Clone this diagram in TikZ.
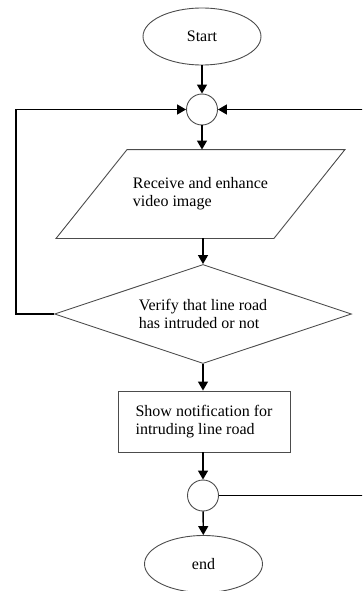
\documentclass[tikz,border=0pt]{standalone}
\usepackage{fontspec}
\setmainfont{Liberation Serif}
\usetikzlibrary{shapes.geometric,arrows.meta}

\begin{document}
\begin{tikzpicture}[x=1pt, y=-1pt,
		box/.style={draw=black!70, line width=0.9pt, font=\fontsize{16}{18}\selectfont},
		term/.style={box, ellipse, minimum width=118, minimum height=57, inner sep=0pt},
		joint/.style={box, circle, minimum size=31, inner sep=0pt},
		io/.style={box, draw=none, rectangle, minimum width=217, minimum height=88, align=left},
		test/.style={box, diamond, shape aspect=3, minimum width=297, minimum height=99,
			inner sep=0pt, align=left},
		proc/.style={box, rectangle, minimum width=172, minimum height=61, align=left},
		flow/.style={line width=1.4pt, -{Triangle[length=9pt, width=10pt]}},
		wire/.style={line width=1.2pt}]
	\clip (0,0) rectangle (362,591);

	% 起止、汇合点与处理框
	\node[term]  (start) at (202,36.5) {Start};
	\node[joint] (merge) at (202,109.5) {};
	\node[io]    (recv)  at (200.5,194) {Receive and enhance\\video image};
	\node[test]  (check) at (203,314) {Verify that line road\\has intruded or not};
	\node[proc]  (note)  at (204,421.5) {Show notification for\\intruding line road};
	\node[joint] (fork)  at (203,495.5) {};
	\node[term]  (stop)  at (203.5,564) {end};

	% 输入框的斜边
	\draw[box] ([xshift=-35.5]recv.south west) -- ([xshift=35.5]recv.north west)
		-- ([xshift=35.5]recv.north east) -- ([xshift=-35.5]recv.south east) -- cycle;

	% 主干
	\draw[flow] (start) -- (merge);
	\draw[flow] (merge) -- (recv.north -| merge);
	\draw[flow] (recv.south -| check) -- (check.north);
	\draw[flow] (check.south) -- (note.north -| check.south);
	\draw[flow] (note.south -| fork) -- (fork);
	\draw[flow] (fork) -- (stop);

	% 回路：左侧来自判断框，右侧来自下方汇合点
	\draw[wire] (check.west) -- (16,314) -- (16,109.5);
	\draw[flow] (16,109.5) -- (merge.west);
	\draw[wire] (fork.east) -- (364,495.5) -- (364,109.5);
	\draw[flow] (364,109.5) -- (merge.east);
\end{tikzpicture}
\end{document}
